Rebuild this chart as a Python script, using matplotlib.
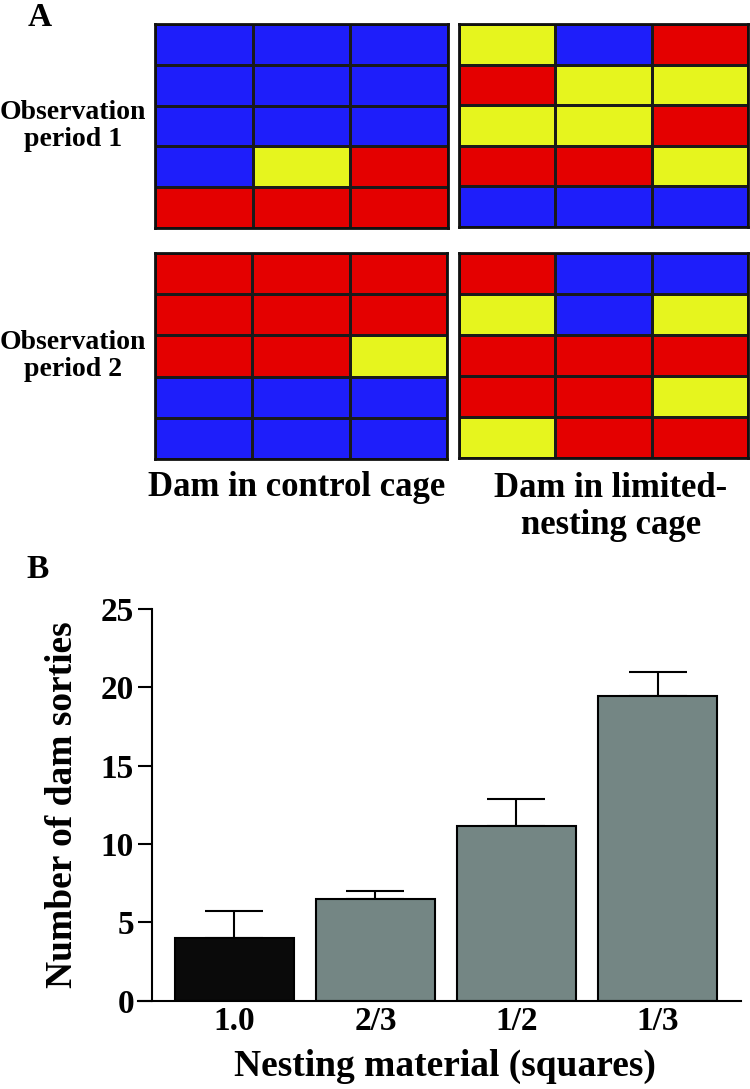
import numpy as np
import matplotlib.pyplot as plt
from matplotlib.colors import ListedColormap

plt.rcParams['font.family'] = ['Liberation Serif', 'DejaVu Serif']
plt.rcParams['font.weight'] = 'bold'

# Panel A: 5 x 3 behaviour grids (B = blue, Y = yellow, R = red)
period1_control = ['BBB', 'BBB', 'BBB', 'BYR', 'RRR']
period1_limited = ['YBR', 'RYY', 'YYR', 'RRY', 'BBB']
period2_control = ['RRR', 'RRR', 'RRY', 'BBB', 'BBB']
period2_limited = ['RBB', 'YBY', 'RRR', 'RRY', 'YRR']
period_labels = ['Observation\nperiod 1', 'Observation\nperiod 2']
cage_labels = ['Dam in control cage', 'Dam in limited-\nnesting cage']
codes = {'B': 0, 'Y': 1, 'R': 2}
cell_colors = ['#1e1efa', '#e6f51e', '#e40000']

# Panel B: sorties per nesting material
nesting = ['1.0', '2/3', '1/2', '1/3']
sorties = [4.0, 6.5, 11.15, 19.45]
sorties_sem = [1.7, 0.5, 1.75, 1.5]
bar_colors = ['#0a0a0a', '#748684', '#748684', '#748684']

W, H = 750, 1089
fig = plt.figure(figsize=(W / 100, H / 100), dpi=100)


def px_axes(x0, y0, x1, y1):
    return fig.add_axes([x0 / W, 1 - y1 / H, (x1 - x0) / W, (y1 - y0) / H])


cmap = ListedColormap(cell_colors)
grids = [(period1_control, (155, 24, 448, 228)),
         (period1_limited, (459, 24, 748, 227)),
         (period2_control, (155, 253, 447, 459)),
         (period2_limited, (459, 253, 748, 458))]
for rows, box in grids:
    ax = px_axes(*box)
    m = np.array([[codes[c] for c in r] for r in rows])
    ax.pcolormesh(m, cmap=cmap, vmin=-0.5, vmax=2.5,
                  edgecolors='#1a1a1a', linewidth=1.0)
    ax.set_xlim(0, 3)
    ax.set_ylim(5, 0)
    ax.set_xticks([])
    ax.set_yticks([])
    for s in ax.spines.values():
        s.set_linewidth(2.0)
        s.set_color('#111111')

fig.text(73 / W, 1 - 126 / H, period_labels[0], ha='center', va='center',
         fontsize=20, linespacing=1.15)
fig.text(73 / W, 1 - 356 / H, period_labels[1], ha='center', va='center',
         fontsize=20, linespacing=1.15)
fig.text(297 / W, 1 - 487 / H, cage_labels[0], ha='center', va='center',
         fontsize=25)
fig.text(611 / W, 1 - 507 / H, cage_labels[1], ha='center', va='center',
         fontsize=25, linespacing=1.15)
fig.text(40 / W, 1 - 17 / H, 'A', ha='center', va='center', fontsize=24)
fig.text(38 / W, 1 - 570 / H, 'B', ha='center', va='center', fontsize=24)

# Panel B
ax = px_axes(138, 609, 740.7, 1000.7)
x = np.arange(len(nesting))
ax.errorbar(x, sorties, yerr=[np.zeros(len(x)), sorties_sem], fmt='none',
            ecolor='black', elinewidth=1.5, capsize=21, capthick=1.5, zorder=1)
ax.bar(x, sorties, width=0.845, color=bar_colors, edgecolor='black',
       linewidth=1.5, zorder=2)
ax.set_xlim(-0.684, 3.59)
ax.set_ylim(0, 25)
ax.spines['top'].set_visible(False)
ax.spines['right'].set_visible(False)
ax.spines['left'].set_position(('axes', 14 / 602.7))
ax.spines['left'].set_linewidth(1.5)
ax.spines['bottom'].set_linewidth(1.5)
ax.set_yticks([0, 5, 10, 15, 20, 25])
ax.set_xticks(x, nesting)
ax.tick_params(axis='y', length=10, width=1.5, labelsize=24, pad=3)
ax.tick_params(axis='x', length=0, labelsize=24, pad=4)

fig.text(63 / W, 1 - 805 / H, 'Number of dam sorties', rotation=90,
         ha='center', va='center', fontsize=27)
fig.text(445 / W, 1 - 1066 / H, 'Nesting material (squares)',
         ha='center', va='center', fontsize=27)

fig.savefig('out.png', dpi=100)
